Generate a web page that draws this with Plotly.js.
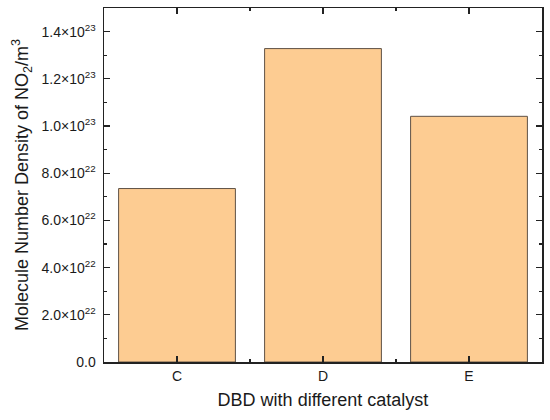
<!DOCTYPE html>
<html>
<head>
<meta charset="utf-8">
<script src="https://cdn.plot.ly/plotly-3.0.1.min.js"></script>
<style>html,body{margin:0;padding:0;background:#fff;}#chart{width:550px;height:420px;}</style>
</head>
<body>
<div id="chart"></div>
<script>
const categories = ["C", "D", "E"];
const density = [7.35e22, 1.328e23, 1.041e23];
const yTickVals = [0, 2e22, 4e22, 6e22, 8e22, 1e23, 1.2e23, 1.4e23];
const yTickText = ["0.0", "2.0×10<sup>22</sup>", "4.0×10<sup>22</sup>", "6.0×10<sup>22</sup>", "8.0×10<sup>22</sup>", "1.0×10<sup>23</sup>", "1.2×10<sup>23</sup>", "1.4×10<sup>23</sup>"];

const xIdx = categories.map((c, i) => i);

const trace = {
  type: "bar",
  x: xIdx,
  y: density,
  width: 0.8,
  marker: {color: "rgb(253,204,146)", line: {color: "rgb(95,82,70)", width: 1}},
  hoverinfo: "none"
};

const layout = {
  width: 550, height: 420,
  margin: {l: 103.5, r: 8.3, t: 8.3, b: 58.3},
  paper_bgcolor: "#fff", plot_bgcolor: "#fff",
  font: {family: "Liberation Sans, Arial, sans-serif", color: "#1a1a1a", size: 14},
  showlegend: false,
  xaxis: {
    range: [-0.5, 2.5],
    tickmode: "array", tickvals: xIdx, ticktext: categories,
    ticks: "inside", ticklen: 6, tickwidth: 1.2, tickcolor: "#222",
    showline: true, linecolor: "#222", linewidth: 1.5, mirror: "ticks",
    showgrid: false, zeroline: false,
    tickfont: {size: 14},
    ticklabelstandoff: 1,
    minor: {ticks: "inside", ticklen: 3, tick0: 0.5, dtick: 1, tickwidth: 1.2, tickcolor: "#222", showgrid: false},
    title: {text: "DBD with different catalyst", font: {size: 18}, standoff: 10}
  },
  yaxis: {
    range: [0, 1.5e23],
    tickmode: "array", tickvals: yTickVals, ticktext: yTickText,
    ticks: "inside", ticklen: 6, tickwidth: 1.2, tickcolor: "#222",
    showline: true, linecolor: "#222", linewidth: 1.5, mirror: "ticks",
    showgrid: false, zeroline: false,
    tickfont: {size: 14},
    ticklabelstandoff: 4,
    minor: {ticks: "inside", ticklen: 3, tick0: 1e22, dtick: 2e22, tickwidth: 1.2, tickcolor: "#222", showgrid: false},
    title: {text: "Molecule Number Density of NO<sub>2</sub>/m<sup>3</sup>", font: {size: 18}, standoff: 8}
  }
};

Plotly.newPlot("chart", [trace], layout, {displayModeBar: false, staticPlot: true});
</script>
</body>
</html>
